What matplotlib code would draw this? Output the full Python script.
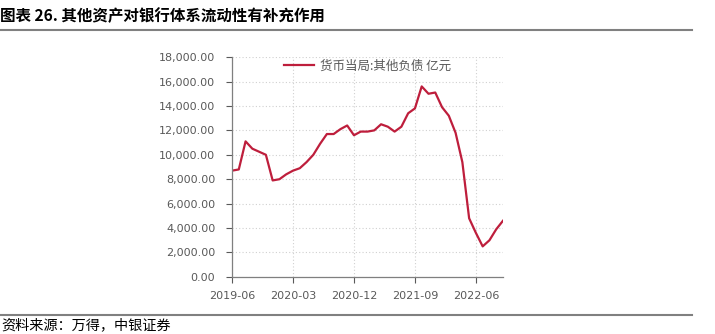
import matplotlib
matplotlib.use('Agg')
import matplotlib.pyplot as plt
import numpy as np

plt.rcParams['font.family'] = ['DejaVu Sans', 'Noto Sans CJK SC']

# 货币当局:其他负债 (亿元), monthly from 2019-06
months = ['2019-06', '2019-07', '2019-08', '2019-09', '2019-10', '2019-11', '2019-12',
          '2020-01', '2020-02', '2020-03', '2020-04', '2020-05', '2020-06', '2020-07',
          '2020-08', '2020-09', '2020-10', '2020-11', '2020-12', '2021-01', '2021-02',
          '2021-03', '2021-04', '2021-05', '2021-06', '2021-07', '2021-08', '2021-09',
          '2021-10', '2021-11', '2021-12', '2022-01', '2022-02', '2022-03', '2022-04',
          '2022-05', '2022-06', '2022-07', '2022-08', '2022-09', '2022-10']
other_liab = [8700, 8800, 11100, 10500, 10250, 10000, 7900,
              8000, 8400, 8700, 8900, 9400, 10000, 10900,
              11700, 11700, 12100, 12400, 11600, 11900, 11900,
              12000, 12500, 12300, 11900, 12300, 13400, 13800,
              15600, 15000, 15100, 13900, 13200, 11800, 9400,
              4800, 3600, 2500, 3000, 3900, 4600]
tick_months = ['2019-06', '2020-03', '2020-12', '2021-09', '2022-06']
series_name = '货币当局:其他负债 亿元'

fig = plt.figure(figsize=(7.15, 3.34), dpi=100)
ax = fig.add_axes([0.3245, 0.171, 0.379, 0.658])

x = np.arange(len(months))
ax.plot(x, other_liab, color='#BE1E3C', linewidth=1.6, label=series_name)

ax.set_xlim(0, len(months) - 1)
ax.set_ylim(0, 18000)
ax.set_yticks(np.arange(0, 18001, 2000))
ax.set_yticklabels([f'{v:,.2f}' for v in np.arange(0, 18001, 2000)])
ax.set_xticks([months.index(m) for m in tick_months])
ax.set_xticklabels(tick_months)

ax.tick_params(axis='both', colors='#595959', labelsize=8, length=4, width=0.8)
ax.tick_params(axis='y', pad=8)
ax.tick_params(axis='x', pad=6)
ax.grid(True, linestyle=(0, (1, 2)), color='#D0D0D0', linewidth=0.8)
for side in ['top', 'right']:
    ax.spines[side].set_visible(False)
for side in ['left', 'bottom']:
    ax.spines[side].set_color('#7F7F7F')
    ax.spines[side].set_linewidth(0.9)

leg = ax.legend(loc='upper center', bbox_to_anchor=(0.5, 1.04), frameon=False,
                handlelength=2.4, handletextpad=0.5,
                prop={'family': ['Noto Sans CJK SC'], 'size': 9})
for t in leg.get_texts():
    t.set_color('#595959')

# header and footer
fig.text(0.0, 0.952, '图表 26. 其他资产对银行体系流动性有补充作用', fontsize=11.2, fontweight='bold',
         family=['Noto Sans CJK SC'], ha='left', va='center', color='#000000')
fig.add_artist(plt.Line2D([0, 0.968], [0.911, 0.911], color='#808080', linewidth=1.5))
fig.add_artist(plt.Line2D([0, 0.968], [0.057, 0.057], color='#808080', linewidth=1.5))
fig.text(0.002, 0.025, '资料来源：万得，中银证券', fontsize=10.2, style='italic',
         family=['Noto Sans CJK SC'], ha='left', va='center', color='#000000')

fig.savefig('out.png', dpi=100)
